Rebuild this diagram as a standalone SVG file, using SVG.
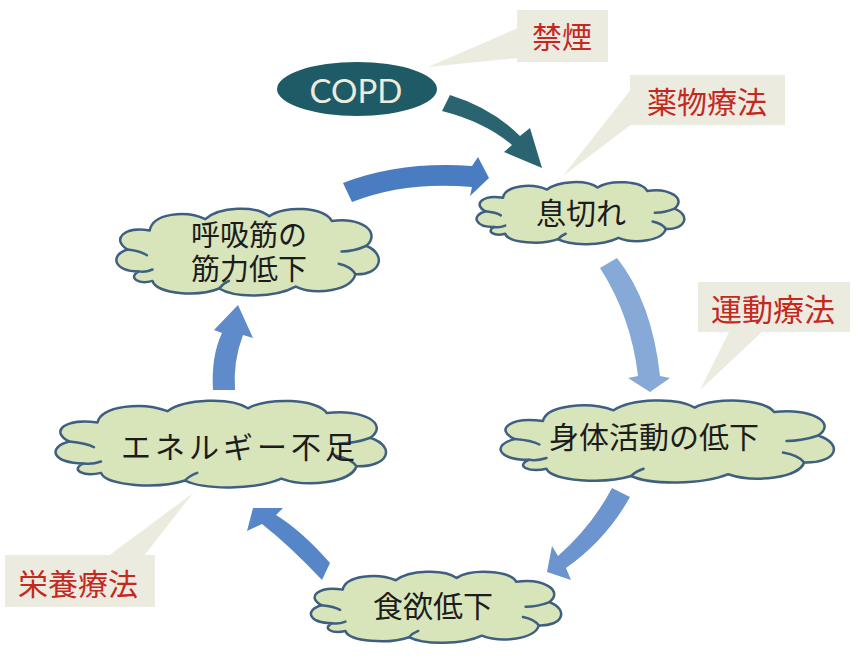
<svg xmlns="http://www.w3.org/2000/svg" xmlns:xlink="http://www.w3.org/1999/xlink" width="860" height="661" viewBox="0 0 860 661">
<style>
.cloud-body{fill:#d8e4ba;stroke:#3f5f80;stroke-width:2.5;vector-effect:non-scaling-stroke;stroke-linejoin:round}
.cloud-in{fill:none;stroke:#3f5f80;stroke-width:2.5;vector-effect:non-scaling-stroke;stroke-linecap:round}
.lbl{font-family:"Noto Sans CJK JP","Noto Sans",sans-serif;font-size:30px;fill:#1c1c1c;text-anchor:middle;dominant-baseline:central}
.call{fill:#ecebe0}
.ctxt{font-family:"Noto Sans CJK JP","Noto Sans",sans-serif;font-size:30px;fill:#c4281e;text-anchor:middle;dominant-baseline:central}
</style>
<defs>
<symbol id="cloud" viewBox="0 0 200 100" preserveAspectRatio="none" overflow="visible">
<path class="cloud-body" d="M 22,72 C 4,72 1,55 14,49 C 2,38 12,24 30,29 C 32,11 56,7 70,17 C 80,4 106,2 116,14 C 127,2 156,4 161,19 C 181,14 197,30 186,45 C 201,55 196,76 178,75 C 175,92 150,98 135,88 C 120,100 91,100 80,90 C 65,99 35,96 32,82 C 22,86 14,79 22,72 Z"/>
<path class="cloud-in" d="M 14,49 C 20,50 25,52 28,55"/>
<path class="cloud-in" d="M 186,45 C 180,49 174,51 168,51"/>
<path class="cloud-in" d="M 178,75 C 176,70 172,66 166,64"/>
<path class="cloud-in" d="M 22,72 C 25,73 29,72 32,70"/>
<path class="cloud-in" d="M 80,90 C 82,86 84,84 87,82"/>
</symbol>
</defs>

<g id="callouts">
<g id="callout-kinen">
<polygon class="call" points="518,28 518,58 428,67"/>
<rect class="call" x="517" y="10" width="91" height="52"/>
<text class="ctxt" x="562" y="35">禁煙</text>
</g>
<g id="callout-yakubutsu">
<polygon class="call" points="632,88 632,124 563,176"/>
<rect class="call" x="630" y="75" width="155" height="50"/>
<text class="ctxt" x="707" y="100">薬物療法</text>
</g>
<g id="callout-undo">
<polygon class="call" points="730,330 764,330 700,390"/>
<rect class="call" x="698" y="282" width="152" height="50"/>
<text class="ctxt" x="773" y="307" style="font-size:31px">運動療法</text>
</g>
<g id="callout-eiyo">
<polygon class="call" points="107,557 143,557 193,493"/>
<rect class="call" x="5" y="555" width="150" height="52"/>
<text class="ctxt" x="78" y="582">栄養療法</text>
</g>
</g>

<g id="connectors">
<path fill="#2a6470" d="M 450,95 Q 492,108 520,136 L 530,128 L 542,168 L 504,152 L 512,145 Q 485,122 442,111 Z"/>
<path fill="#4a7cc1" d="M 343,183 Q 400,161 472,166 L 478,157 L 489,178 L 470,196 L 472,187 Q 405,181 352,202 Z"/>
<path fill="#86a9d8" d="M 600,268 L 617,258 Q 652,302 660,376 L 670,378 L 650,392 L 628,378 L 638,376 Q 631,316 600,268 Z"/>
<path fill="#6c94cf" d="M 612,488 L 630,497 Q 606,540 566,568 L 571,580 L 547,572 L 552,546 L 558,556 Q 592,526 612,488 Z"/>
<path fill="#5686c7" d="M 330,563 Q 302,531 276,515 L 283,508 L 253,508 L 247,531 L 262,524 Q 290,546 322,580 Z"/>
<path fill="#5f8bca" d="M 213,390 Q 211,356 222,333 L 214,330 L 238,305 L 253,338 L 243,335 Q 233,361 235,390 Z"/>
</g>

<g id="copd">
<ellipse cx="357" cy="89" rx="80" ry="27" fill="#1f5b66"/>
<text x="356" y="90" style="font-family:Lato,'Open Sans',sans-serif;font-size:33px;fill:#ecebdc;text-anchor:middle;dominant-baseline:central">COPD</text>
</g>

<g id="ikigire">
<use xlink:href="#cloud" x="470" y="178" width="220" height="68"/>
<text class="lbl" x="581" y="211">息切れ</text>
</g>

<g id="kokyukin">
<use xlink:href="#cloud" x="108" y="203" width="278" height="95"/>
<text class="lbl" style="font-size:29px"><tspan x="249" y="233">呼吸筋の</tspan><tspan x="249" y="267">筋力低下</tspan></text>
</g>

<g id="shintai">
<use xlink:href="#cloud" x="490" y="395" width="353" height="90"/>
<text class="lbl" x="654" y="435">身体活動の低下</text>
</g>

<g id="energy">
<use xlink:href="#cloud" x="45" y="395" width="350" height="95"/>
<text class="lbl" x="240" y="445" style="letter-spacing:4px">エネルギー不足</text>
</g>

<g id="shokuyoku">
<use xlink:href="#cloud" x="303" y="567" width="265" height="78"/>
<text class="lbl" x="433" y="604">食欲低下</text>
</g>
</svg>
